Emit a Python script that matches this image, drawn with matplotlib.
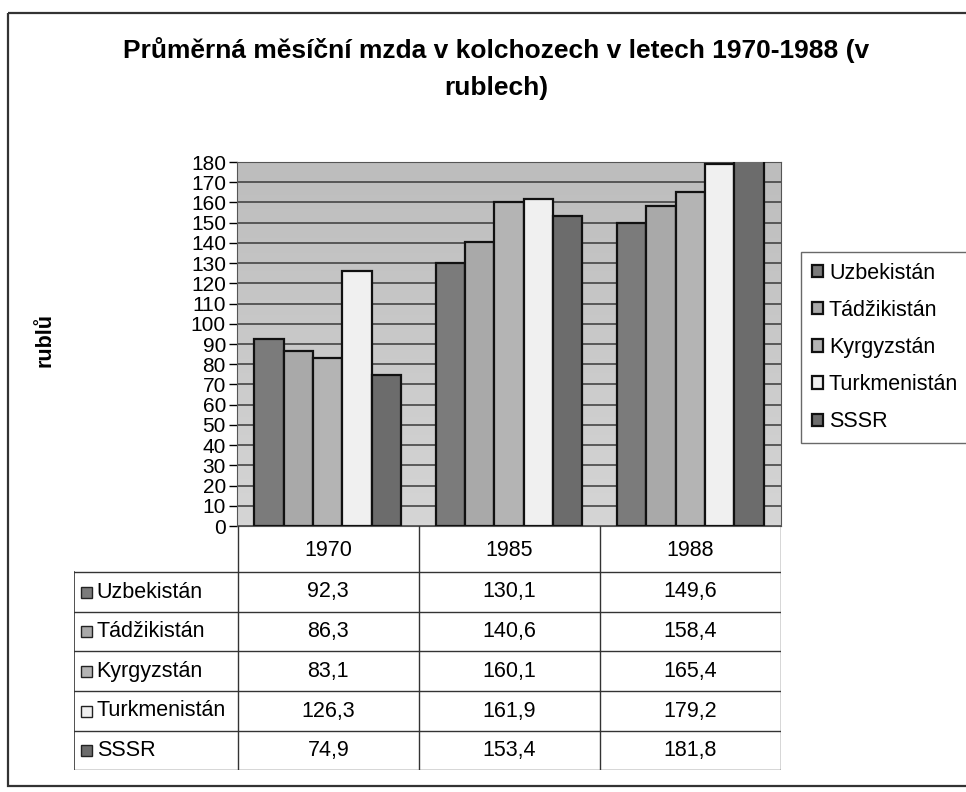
import numpy as np
import matplotlib
matplotlib.use("Agg")
import matplotlib.pyplot as plt
from matplotlib.patches import Rectangle
from matplotlib.lines import Line2D
from matplotlib.colors import LinearSegmentedColormap

years = ["1970", "1985", "1988"]
countries = ["Uzbekistán", "Tádžikistán", "Kyrgyzstán", "Turkmenistán", "SSSR"]
uzbekistan = [92.3, 130.1, 149.6]
tadzikistan = [86.3, 140.6, 158.4]
kyrgyzstan = [83.1, 160.1, 165.4]
turkmenistan = [126.3, 161.9, 179.2]
sssr = [74.9, 153.4, 181.8]
series = [uzbekistan, tadzikistan, kyrgyzstan, turkmenistan, sssr]
labels = [[("%.1f" % v).replace(".", ",") for v in s] for s in series]

colors = ["#7b7b7b", "#a9a9a9", "#b4b4b4", "#f0f0f0", "#6c6c6c"]
plt.rcParams['font.family'] = ['Liberation Sans', 'DejaVu Sans']

W, H = 966, 792
fig = plt.figure(figsize=(W / 100, H / 100), dpi=100)
fig.patch.set_facecolor("white")

def fbox(x0, y0, x1, y1):
    # pixel box (top-left origin) -> figure fraction rect
    return [x0 / W, 1 - y1 / H, (x1 - x0) / W, (y1 - y0) / H]

# outer frame of the chart
frame = fig.add_axes([0, 0, 1, 1])
frame.set_xlim(0, W)
frame.set_ylim(H, 0)
frame.set_axis_off()
frame.add_patch(Rectangle((8, 13), 980, 773, fill=False, lw=1.6, ec="#333333"))

fig.text(496 / W, 1 - 50 / H, "Průměrná měsíční mzda v kolchozech v letech 1970-1988 (v",
         ha="center", va="center", fontsize=19, weight="bold")
fig.text(496 / W, 1 - 88 / H, "rublech)", ha="center", va="center", fontsize=19,
         weight="bold")
fig.text(45 / W, 1 - 340 / H, "rublů", ha="center", va="center", fontsize=15.5,
         weight="bold", rotation=90)

ax = fig.add_axes(fbox(237, 162, 781, 526))
x = np.arange(len(years))
n = len(series)
bw = 0.162
# plot background gradient (darker at top)
bg = LinearSegmentedColormap.from_list("bg", ["#d5d5d5", "#bdbdbd"])
grad = np.linspace(0, 1, 100).reshape(-1, 1)
ax.imshow(grad, extent=(-0.5, 2.5, 0, 180), aspect="auto", cmap=bg,
          origin="lower", zorder=0)
for i, (s, c, name) in enumerate(zip(series, colors, countries)):
    ax.bar(x + (i - (n - 1) / 2) * bw, s, bw, color=c, edgecolor="#111111",
           linewidth=1.6, label=name, zorder=3)
ax.set_xlim(-0.5, 2.5)
ax.set_ylim(0, 180)
ax.set_yticks(np.arange(0, 181, 10))
ax.tick_params(axis="y", labelsize=15, length=6, width=1, pad=2)
ax.set_xticks([])
ax.yaxis.grid(True, color="#3a3a3a", lw=1.1, zorder=1)
ax.set_axisbelow(True)
for sp in ax.spines.values():
    sp.set_color("#555555")

leg = fig.legend(loc="upper left", bbox_to_anchor=(801 / W, 1 - 252 / H),
                 fontsize=15.5, frameon=True, fancybox=False, edgecolor="#444444",
                 handlelength=0.5, handleheight=0.5, handletextpad=0.3,
                 labelspacing=0.75, borderpad=0.5, borderaxespad=0)
leg.get_frame().set_linewidth(1.0)

# data table below the plot, aligned with the categories
tax = fig.add_axes(fbox(74, 526, 781, 770))
x_left = -0.5 - (238 - 74) / (544 / 3)
tax.set_xlim(x_left, 2.5)
tax.set_ylim(244, 0)
tax.set_axis_off()
rows = [0, 46, 86, 125, 165, 205, 244]
lc = "#333333"
for b in [-0.5, 0.5, 1.5, 2.5]:
    tax.add_line(Line2D([b, b], [0, 244], color=lc, lw=1))
tax.add_line(Line2D([x_left, x_left], [rows[1], 244], color=lc, lw=1.2))
for r in rows[1:]:
    tax.add_line(Line2D([x_left, 2.5], [r, r], color=lc, lw=1))
for j, yr in enumerate(years):
    tax.text(j, 24, yr, ha="center", va="center", fontsize=15.5)
for i, (name, c) in enumerate(zip(countries, colors)):
    yc = (rows[i + 1] + rows[i + 2]) / 2
    tax.add_patch(Rectangle((x_left + 0.04, yc - 5.5), 0.058, 11, fc=c, ec="#222222", lw=1))
    tax.text(x_left + 0.125, yc, name, ha="left", va="center", fontsize=15.5)
    for j in range(len(years)):
        tax.text(j, yc, labels[i][j], ha="center", va="center", fontsize=15.5)

fig.savefig("out.png", dpi=100)
